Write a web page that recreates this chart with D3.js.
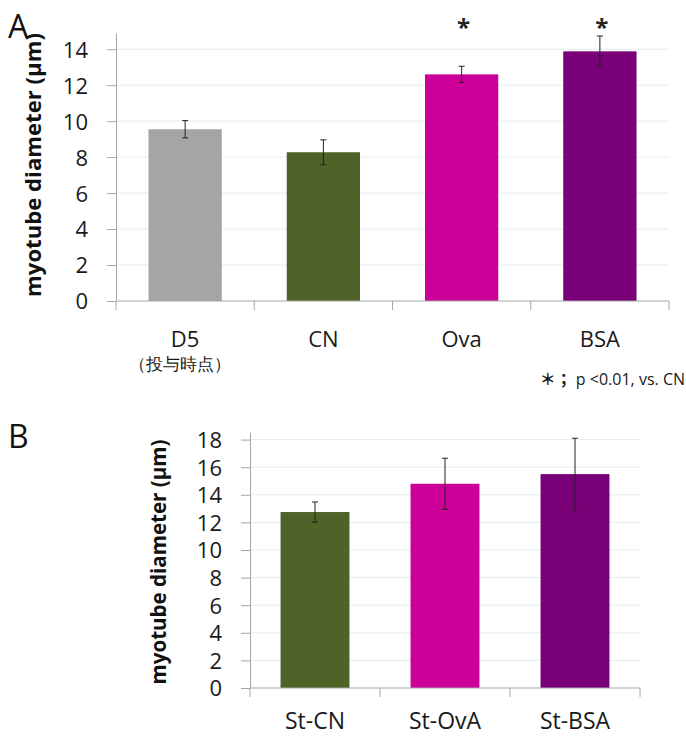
<!DOCTYPE html>
<html>
<head>
<meta charset="utf-8">
<script src="https://cdn.jsdelivr.net/npm/d3@7"></script>
<style>
  body { margin: 0; background: #fff; }
  text { font-family: "Open Sans", "Noto Sans", sans-serif; }
</style>
</head>
<body>
<div id="chart"></div>
<script>
// data, panel A
const catsA = ["D5", "CN", "Ova", "BSA"];
const meansA = [9.55, 8.27, 12.6, 13.88];
const errsA = [0.48, 0.69, 0.45, 0.85];
const sigA = ["", "", "*", "*"];
const ticksA = [0, 2, 4, 6, 8, 10, 12, 14];

// data, panel B
const catsB = ["St-CN", "St-OvA", "St-BSA"];
const meansB = [12.75, 14.8, 15.5];
const errsB = [0.73, 1.85, 2.6];
const ticksB = [0, 2, 4, 6, 8, 10, 12, 14, 16, 18];

const colors = {
  "D5": "#a5a5a5", "CN": "#4f6228", "Ova": "#cc0099", "BSA": "#7a0077",
  "St-CN": "#4f6228", "St-OvA": "#cc0099", "St-BSA": "#7a0077"
};

const W = 686, H = 737;
const svg = d3.select("#chart").append("svg")
  .attr("width", W).attr("height", H);

function drawPanel(opt) {
  const g = svg.append("g");
  const x = d3.scaleBand()
    .domain(opt.cats)
    .range([opt.left, opt.right])
    .paddingInner(0.47)
    .paddingOuter(0.235);
  const y = d3.scaleLinear()
    .domain([0, opt.ymax])
    .range([opt.bottom, opt.top]);

  // gridlines
  g.append("g").selectAll("line")
    .data(opt.ticks.filter(d => d > 0))
    .join("line")
    .attr("x1", opt.left).attr("x2", opt.right)
    .attr("y1", d => y(d)).attr("y2", d => y(d))
    .attr("stroke", "#e2edf1").attr("stroke-width", 1);

  // y axis
  const yAxis = g.append("g")
    .attr("transform", `translate(${opt.left},0)`)
    .call(d3.axisLeft(y).tickValues(opt.ticks).tickSize(9).tickPadding(19).tickSizeOuter(0));
  yAxis.select(".domain").attr("stroke", "#a6a6a6");
  yAxis.selectAll(".tick line").attr("stroke", "#a6a6a6");
  yAxis.selectAll(".tick text")
    .attr("font-size", opt.tickFont).attr("fill", "#1a1a1a")
    .attr("font-family", "'Open Sans', sans-serif")
    .attr("dy", "0.36em");

  // bars
  g.append("g").selectAll("rect")
    .data(opt.cats)
    .join("rect")
    .attr("x", d => x(d))
    .attr("width", x.bandwidth())
    .attr("y", (d, i) => y(opt.means[i]))
    .attr("height", (d, i) => y(0) - y(opt.means[i]))
    .attr("fill", d => colors[d]);

  // error bars
  const eb = g.append("g").attr("stroke", "#222").attr("stroke-width", 1);
  opt.cats.forEach((c, i) => {
    const cx = x(c) + x.bandwidth() / 2;
    const hi = y(opt.means[i] + opt.errs[i]), lo = y(opt.means[i] - opt.errs[i]);
    eb.append("line").attr("x1", cx).attr("x2", cx).attr("y1", hi).attr("y2", lo);
    eb.append("line").attr("x1", cx - 3).attr("x2", cx + 3).attr("y1", hi).attr("y2", hi);
    eb.append("line").attr("x1", cx - 3).attr("x2", cx + 3).attr("y1", lo).attr("y2", lo);
  });

  // x axis line with ticks at band boundaries
  const step = x.step();
  g.append("line")
    .attr("x1", opt.left).attr("x2", opt.right)
    .attr("y1", y(0)).attr("y2", y(0))
    .attr("stroke", "#a6a6a6");
  g.append("g").selectAll("line")
    .data(d3.range(opt.cats.length + 1))
    .join("line")
    .attr("x1", i => opt.left + i * step).attr("x2", i => opt.left + i * step)
    .attr("y1", y(0)).attr("y2", y(0) + 9)
    .attr("stroke", "#a6a6a6");

  // category labels
  g.append("g").selectAll("text")
    .data(opt.cats)
    .join("text")
    .attr("x", d => x(d) + x.bandwidth() / 2)
    .attr("y", opt.catY)
    .attr("text-anchor", "middle")
    .attr("font-size", opt.catFont)
    .attr("fill", "#1a1a1a")
    .text(d => d);

  // y title, fitted to the length seen in the reference
  const yt = g.append("text")
    .attr("transform", `translate(${opt.titleX},${opt.titleY}) rotate(-90)`)
    .attr("text-anchor", "middle")
    .attr("dy", "0.35em")
    .attr("font-weight", "bold")
    .attr("font-size", 20)
    .attr("fill", "#111")
    .text("myotube diameter (µm)");
  const len = yt.node().getComputedTextLength();
  yt.attr("font-size", 20 * opt.titleLen / len);

  return { x, y, g };
}

// panel A
const A = drawPanel({
  cats: catsA, means: meansA, errs: errsA, ticks: ticksA,
  ymax: 14.9, left: 116, right: 669, top: 33, bottom: 301,
  tickFont: 22, catFont: 22, catY: 347,
  titleX: 33, titleY: 165, titleLen: 264
});

// significance marks
A.g.append("g").selectAll("text")
  .data(catsA.filter((d, i) => sigA[i]))
  .join("text")
  .attr("x", d => A.x(d) + A.x.bandwidth() / 2 + 2)
  .attr("y", 36)
  .attr("text-anchor", "middle")
  .attr("font-size", 24)
  .attr("font-weight", "bold")
  .attr("fill", "#222")
  .text(d => sigA[catsA.indexOf(d)]);

svg.append("text")
  .attr("x", A.x("D5") + A.x.bandwidth() / 2 - 5)
  .attr("y", 370)
  .attr("text-anchor", "middle")
  .attr("font-size", 17)
  .attr("font-family", "'Noto Sans CJK JP', sans-serif")
  .attr("fill", "#1a1a1a")
  .text("（投与時点）");

const foot = svg.append("text")
  .attr("x", 685).attr("y", 385)
  .attr("text-anchor", "end")
  .attr("font-size", 16)
  .attr("fill", "#1a1a1a");
foot.append("tspan")
  .attr("font-family", "'Noto Sans CJK JP', sans-serif")
  .attr("font-weight", "bold")
  .text("＊；");
foot.append("tspan").text(" p <0.01, vs. CN");

// panel B
drawPanel({
  cats: catsB, means: meansB, errs: errsB, ticks: ticksB,
  ymax: 18.55, left: 250, right: 640, top: 432, bottom: 688,
  tickFont: 22, catFont: 23, catY: 729,
  titleX: 159, titleY: 562, titleLen: 245
});

// panel letters
svg.append("text").attr("x", 8).attr("y", 38)
  .attr("font-family", "'Liberation Sans', Arial, sans-serif")
  .attr("font-size", 32).attr("fill", "#111").text("A");
svg.append("text").attr("x", 8).attr("y", 448)
  .attr("font-family", "'Liberation Sans', Arial, sans-serif")
  .attr("font-size", 32).attr("fill", "#111").text("B");
</script>
</body>
</html>
